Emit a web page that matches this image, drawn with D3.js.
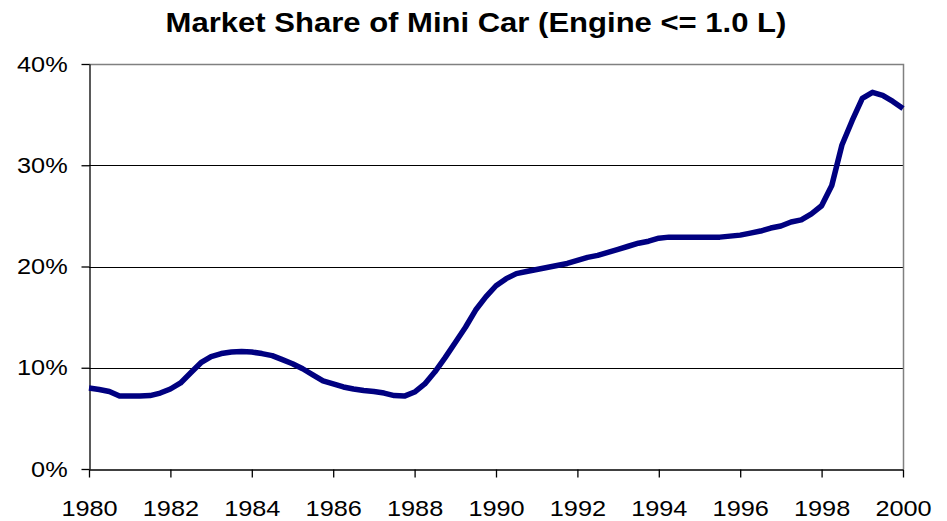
<!DOCTYPE html>
<html>
<head>
<meta charset="utf-8">
<script src="https://cdn.jsdelivr.net/npm/d3@7"></script>
<style>
  body { margin: 0; background: #fff; }
  svg { display: block; font-family: Arial, "Liberation Sans", sans-serif; }
</style>
</head>
<body>
<div id="chart"></div>
<script>
// quarterly observations, 1980 Q1 .. 2000 Q1
const years = d3.range(81).map(i => 1980 + i / 4);
const share = [
  8.0, 7.85, 7.65, 7.2, 7.2, 7.2, 7.25, 7.5,
  7.9, 8.5, 9.5, 10.5, 11.1, 11.4, 11.55, 11.6,
  11.55, 11.4, 11.2, 10.8, 10.4, 9.9, 9.3, 8.7,
  8.4, 8.1, 7.9, 7.75, 7.65, 7.5, 7.25, 7.2,
  7.6, 8.4, 9.6, 11.0, 12.5, 14.0, 15.7, 17.0,
  18.1, 18.8, 19.3, 19.5, 19.7, 19.9, 20.1, 20.3,
  20.6, 20.9, 21.1, 21.4, 21.7, 22.0, 22.3, 22.5,
  22.8, 22.9, 22.9, 22.9, 22.9, 22.9, 22.9, 23.0,
  23.1, 23.3, 23.5, 23.8, 24.0, 24.4, 24.6, 25.2,
  26.0, 28.0, 32.0, 34.4, 36.6, 37.2, 36.9, 36.3,
  35.6
];
const xTicks = d3.range(1980, 2001, 2);
const yTicks = [0, 10, 20, 30, 40];
const title = 'Market Share of Mini Car (Engine <= 1.0 L)';

const width = 947, height = 521;
const margin = { top: 64, right: 44, bottom: 52, left: 89 };
const stretch = 'scale(1.15,1)'; // the original text is a bit wide

const svg = d3.select('#chart').append('svg')
  .attr('width', width).attr('height', height);

const x = d3.scaleLinear().domain([1980, 2000])
  .range([margin.left, width - margin.right]);
const y = d3.scaleLinear().domain([0, 40])
  .range([height - margin.bottom, margin.top]);

svg.append('g')
  .attr('transform', `translate(476,32) ${stretch}`)
  .append('text')
  .attr('text-anchor', 'middle')
  .attr('font-size', 27).attr('font-weight', 'bold')
  .attr('fill', '#000')
  .text(title);

// gridlines
svg.append('g')
  .selectAll('line').data(yTicks.filter(d => d > 0 && d < 40)).join('line')
  .attr('x1', x(1980)).attr('x2', x(2000))
  .attr('y1', d => Math.round(y(d)) + 0.5).attr('y2', d => Math.round(y(d)) + 0.5)
  .attr('stroke', '#000').attr('stroke-width', 1);

// top and right frame
svg.append('path')
  .attr('d', `M${x(1980)},${Math.round(y(40)) + 0.5}H${Math.round(x(2000)) + 0.5}V${y(0)}`)
  .attr('fill', 'none').attr('stroke', '#808080').attr('stroke-width', 1.5);

const yAxis = svg.append('g')
  .attr('transform', `translate(${Math.round(x(1980)) + 0.5},0)`)
  .call(d3.axisLeft(y).tickValues(yTicks).tickFormat(d => d + '%')
    .tickSizeInner(8).tickSizeOuter(0).tickPadding(11));

const xAxis = svg.append('g')
  .attr('transform', `translate(0,${Math.round(y(0)) + 0.5})`)
  .call(d3.axisBottom(x).tickValues(xTicks).tickFormat(d3.format('d'))
    .tickSizeInner(8).tickSizeOuter(0).tickPadding(23));

[xAxis, yAxis].forEach(a => {
  a.select('.domain').attr('stroke', '#000').attr('stroke-width', 1.3);
  a.selectAll('.tick line').attr('stroke', '#000').attr('stroke-width', 1.3);
  a.selectAll('text').attr('font-size', 22).attr('fill', '#000')
    .attr('font-family', 'Arial, "Liberation Sans", sans-serif')
    .attr('transform', stretch);
});

const line = d3.line()
  .x((d, i) => x(years[i]))
  .y(d => y(d));

svg.append('path')
  .datum(share)
  .attr('d', line)
  .attr('fill', 'none')
  .attr('stroke', '#000080')
  .attr('stroke-width', 5.5)
  .attr('stroke-linejoin', 'round');
</script>
</body>
</html>
